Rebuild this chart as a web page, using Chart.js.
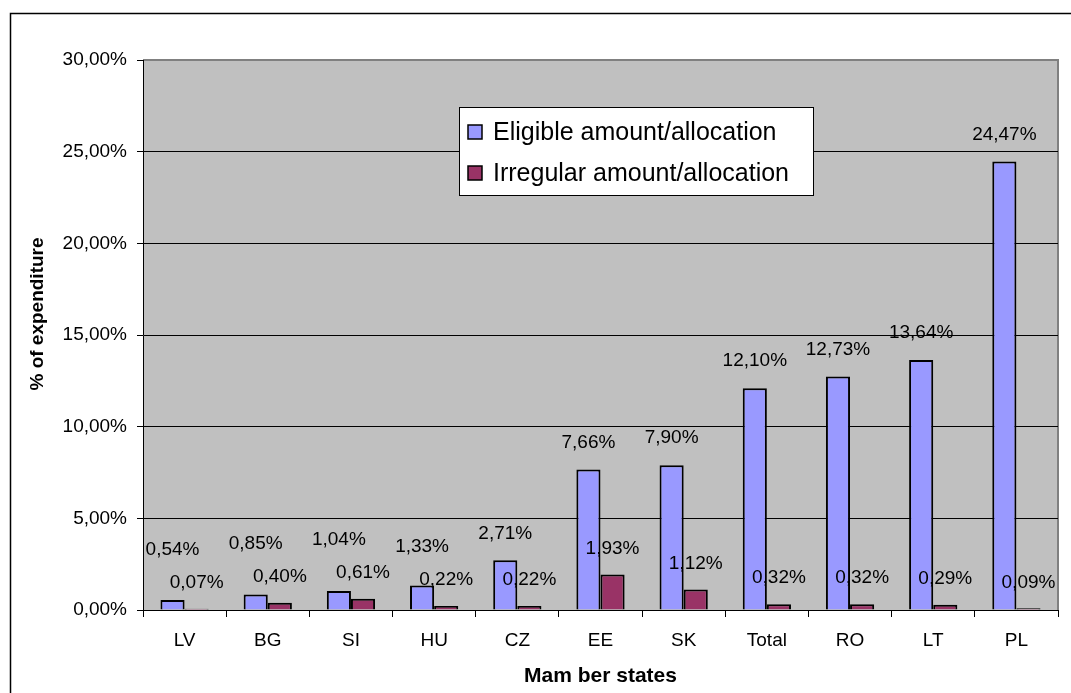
<!DOCTYPE html>
<html>
<head>
<meta charset="utf-8">
<script src="https://cdn.jsdelivr.net/npm/chart.js@4"></script>
<style>
  html, body { margin: 0; padding: 0; background: #fff; }
  #wrap { width: 1071px; height: 693px; position: relative; }
</style>
</head>
<body>
<div id="wrap"><canvas id="chart"></canvas></div>
<script>
// --- data ---
const memberStates = ["LV", "BG", "SI", "HU", "CZ", "EE", "SK", "Total", "RO", "LT", "PL"];
const eligibleShare = [0.54, 0.85, 1.04, 1.33, 2.71, 7.66, 7.90, 12.10, 12.73, 13.64, 24.47];
const irregularShare = [0.07, 0.40, 0.61, 0.22, 0.22, 1.93, 1.12, 0.32, 0.32, 0.29, 0.09];
const seriesNames = ["Eligible amount/allocation", "Irregular amount/allocation"];
const yTitle = "% of expenditure";
const xTitle = "Mam ber states";

const FONT = "'Liberation Sans', Arial, sans-serif";
const fmtPct = (v) => v.toFixed(2).replace(".", ",") + "%";

// plot background, outer frame, axis titles
const frame = {
  id: "frame",
  beforeDraw(chart) {
    const { ctx, chartArea: a } = chart;
    ctx.save();
    ctx.fillStyle = "#fff";
    ctx.fillRect(0, 0, chart.width, chart.height);
    ctx.strokeStyle = "#000";
    ctx.lineWidth = 1.5;
    ctx.strokeRect(10.5, 13.5, 1200, 800);
    ctx.fillStyle = "#C0C0C0";
    ctx.fillRect(a.left, a.top, a.right - a.left, a.bottom - a.top);
    ctx.strokeStyle = "#808080";
    ctx.lineWidth = 2;
    ctx.beginPath();
    ctx.moveTo(a.left, a.top);
    ctx.lineTo(a.right, a.top);
    ctx.lineTo(a.right, a.bottom);
    ctx.stroke();
    ctx.restore();
  },
  afterDraw(chart) {
    const { ctx, chartArea: a } = chart;
    ctx.save();
    ctx.fillStyle = "#000";
    ctx.textAlign = "center";
    ctx.textBaseline = "middle";
    ctx.font = "bold 21px " + FONT;
    ctx.fillText(xTitle, (a.left + a.right) / 2, 676);
    ctx.font = "bold 19px " + FONT;
    ctx.translate(38, 314);
    ctx.rotate(-Math.PI / 2);
    ctx.fillText(yTitle, 0, 0);
    ctx.restore();
  },
};

// legend box inside the plot
const boxLegend = {
  id: "boxLegend",
  afterDraw(chart) {
    const { ctx } = chart;
    const x = 459, y = 107, w = 354, h = 88;
    ctx.save();
    ctx.fillStyle = "#fff";
    ctx.fillRect(x, y, w, h);
    ctx.strokeStyle = "#000";
    ctx.lineWidth = 1;
    ctx.strokeRect(x + 0.5, y + 0.5, w, h);
    ctx.font = "25px " + FONT;
    ctx.textBaseline = "middle";
    chart.data.datasets.forEach((ds, i) => {
      const cy = y + 25 + i * 41;
      ctx.fillStyle = ds.backgroundColor;
      ctx.fillRect(x + 9, cy - 7, 14, 14);
      ctx.strokeStyle = "#000";
      ctx.lineWidth = 1.5;
      ctx.strokeRect(x + 9, cy - 7, 14, 14);
      ctx.fillStyle = "#000";
      ctx.fillText(ds.label, x + 34, cy + 1);
    });
    ctx.restore();
  },
};

// value labels above the bars
const valueLabels = {
  id: "valueLabels",
  afterDatasetsDraw(chart) {
    const { ctx } = chart;
    const blue = chart.getDatasetMeta(0).data;
    const red = chart.getDatasetMeta(1).data;
    ctx.save();
    ctx.font = "19px " + FONT;
    ctx.fillStyle = "#000";
    ctx.textAlign = "center";
    ctx.textBaseline = "middle";
    red.forEach((el, i) => {
      const ry = el.y - 26;
      ctx.fillText(fmtPct(irregularShare[i]), el.x, ry);
      const b = blue[i];
      const by = Math.min(b.y - 27, ry - 33);
      ctx.fillText(fmtPct(eligibleShare[i]), b.x, by);
    });
    ctx.restore();
  },
};

new Chart(document.getElementById("chart"), {
  type: "bar",
  data: {
    labels: memberStates,
    datasets: [
      {
        label: seriesNames[0],
        data: eligibleShare,
        backgroundColor: "#9999FF",
        borderColor: "#000",
        borderWidth: 2,
        borderSkipped: "bottom",
      },
      {
        label: seriesNames[1],
        data: irregularShare,
        backgroundColor: "#993366",
        borderColor: "#000",
        borderWidth: 2,
        borderSkipped: "bottom",
      },
    ],
  },
  options: {
    responsive: true,
    maintainAspectRatio: false,
    animation: false,
    categoryPercentage: 0.58,
    barPercentage: 1,
    layout: { padding: { left: 0, top: 60, right: 13, bottom: 0 } },
    plugins: {
      legend: { display: false },
      tooltip: { enabled: false },
    },
    scales: {
      x: {
        afterFit: (s) => { s.height = 83; },
        grid: {
          offset: true,
          drawOnChartArea: false,
          color: "#000",
          tickLength: 7,
        },
        border: { color: "#000", width: 1 },
        ticks: {
          color: "#000",
          font: { family: FONT, size: 19 },
          padding: 12,
        },
      },
      y: {
        min: 0,
        max: 30,
        afterFit: (s) => { s.width = 143; },
        grid: {
          color: (c) => (c.tick && c.tick.value === 30 ? "#808080" : "#000"),
          tickLength: 6,
          tickColor: "#000",
        },
        border: { color: "#000", width: 1 },
        ticks: {
          stepSize: 5,
          color: "#000",
          font: { family: FONT, size: 19 },
          padding: 10,
          callback: (v) => fmtPct(v),
        },
      },
    },
  },
  plugins: [frame, valueLabels, boxLegend],
});
</script>
</body>
</html>
